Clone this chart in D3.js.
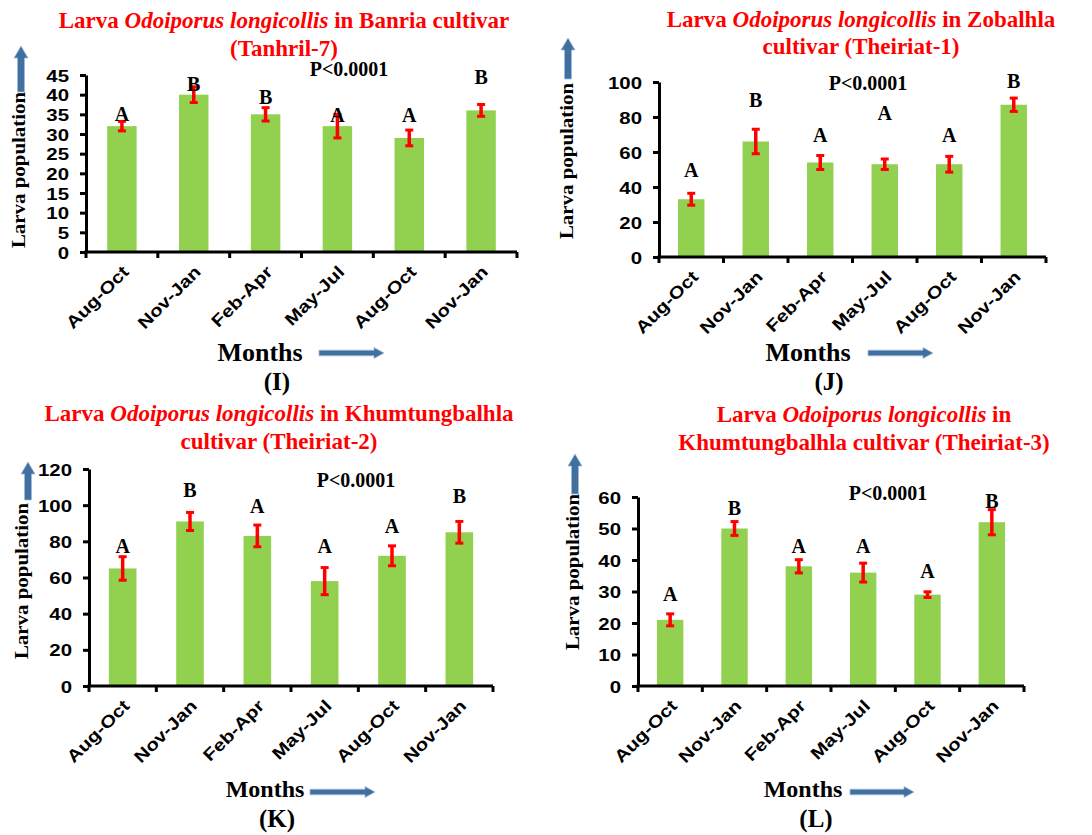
<!DOCTYPE html>
<html>
<head>
<meta charset="utf-8">
<script src="https://cdnjs.cloudflare.com/ajax/libs/d3/7.8.5/d3.min.js"></script>
<style>
    body { margin: 0; background: #fff; }
    svg { display: block; }
    .serif { font-family: "Liberation Serif", "Times New Roman", serif; font-weight: bold; }
    .sans { font-family: "Liberation Sans", Arial, sans-serif; font-weight: bold; }
</style>
</head>
<body>
<div id="chart"></div>
<script>
// Category labels shared by all four panels
var months = ["Aug-Oct", "Nov-Jan", "Feb-Apr", "May-Jul", "Aug-Oct", "Nov-Jan"];

// (I) Banria cultivar (Tanhril-7)
var banriaMean = [32, 40, 35, 32, 29, 36];
var banriaErr = [1.2, 2, 1.7, 3, 2, 1.5];
var banriaLetters = ["A", "B", "B", "A", "A", "B"];
var banriaLetterAt = [33.3, 41, 37.6, 33, 33, 42.7];

// (J) Zobalhla cultivar (Theiriat-1)
var zobalhlaMean = [33, 66, 54, 53, 53, 87];
var zobalhlaErr = [3.4, 7, 4, 3, 4.5, 3.8];
var zobalhlaLetters = ["A", "B", "A", "A", "A", "B"];
var zobalhlaLetterAt = [45.7, 85.7, 65.7, 78.3, 65.7, 96.6];

// (K) Khumtungbalhla cultivar (Theiriat-2)
var theiriat2Mean = [65, 91, 83, 58, 72, 85];
var theiriat2Err = [6.5, 5, 6, 7.5, 5.5, 6];
var theiriat2Letters = ["A", "B", "A", "A", "A", "B"];
var theiriat2LetterAt = [73.6, 104.5, 95.7, 73.6, 84.6, 101.2];

// (L) Khumtungbalhla cultivar (Theiriat-3)
var theiriat3Mean = [21, 50, 38, 36, 29, 52];
var theiriat3Err = [1.9, 2.2, 2.1, 3, 0.9, 4];
var theiriat3Letters = ["A", "B", "A", "A", "A", "B"];
var theiriat3LetterAt = [27, 54.3, 42.2, 42.2, 34.3, 56.5];

var pText = "P<0.0001";

var svg = d3.select("#chart")
    .append("svg")
    .attr("width", 1092)
    .attr("height", 835);

svg.append("rect").attr("width", 1092).attr("height", 835).attr("fill", "#fff");

var arrowFill = "#41709e";

// Layout of each panel
var panels = [
    {
        tag: "(I)", mean: banriaMean, err: banriaErr, letters: banriaLetters, letterAt: banriaLetterAt,
        yMax: 45, yStep: 5, left: 86, right: 517, top: 75, bottom: 252,
        title: [
            [["Larva ", false], ["Odoiporus longicollis", true], [" in Banria cultivar", false]],
            [["(Tanhril-7)", false]]
        ],
        titleX: 284, titleY: [28, 56],
        pX: 349, pY: 76,
        ylabX: 25, ylabY: 170, upX: 21, upTop: 46, upBottom: 92,
        monthsX: 260, monthsY: 361, monthsSize: 26, rArrow: [319, 384, 353],
        tagX: 277, tagY: 390
    },
    {
        tag: "(J)", mean: zobalhlaMean, err: zobalhlaErr, letters: zobalhlaLetters, letterAt: zobalhlaLetterAt,
        yMax: 100, yStep: 20, left: 659, right: 1046, top: 82, bottom: 257,
        title: [
            [["Larva ", false], ["Odoiporus longicollis", true], [" in Zobalhla", false]],
            [["cultivar (Theiriat-1)", false]]
        ],
        titleX: 861, titleY: [27, 54],
        pX: 868, pY: 90,
        ylabX: 573, ylabY: 161, upX: 568, upTop: 38, upBottom: 79,
        monthsX: 808, monthsY: 361, monthsSize: 26, rArrow: [868, 933, 353],
        tagX: 829, tagY: 390
    },
    {
        tag: "(K)", mean: theiriat2Mean, err: theiriat2Err, letters: theiriat2Letters, letterAt: theiriat2LetterAt,
        yMax: 120, yStep: 20, left: 89, right: 493, top: 469, bottom: 686,
        title: [
            [["Larva ", false], ["Odoiporus longicollis", true], [" in Khumtungbalhla", false]],
            [["cultivar (Theiriat-2)", false]]
        ],
        titleX: 279, titleY: [421, 449],
        pX: 356, pY: 487,
        ylabX: 28, ylabY: 581, upX: 28, upTop: 462, upBottom: 500,
        monthsX: 265, monthsY: 797, monthsSize: 24, rArrow: [310, 375, 792],
        tagX: 277, tagY: 827
    },
    {
        tag: "(L)", mean: theiriat3Mean, err: theiriat3Err, letters: theiriat3Letters, letterAt: theiriat3LetterAt,
        yMax: 60, yStep: 10, left: 638, right: 1024, top: 497, bottom: 686,
        title: [
            [["Larva ", false], ["Odoiporus longicollis", true], [" in", false]],
            [["Khumtungbalhla cultivar (Theiriat-3)", false]]
        ],
        titleX: 864, titleY: [422, 450],
        pX: 888, pY: 500,
        ylabX: 579, ylabY: 572, upX: 575, upTop: 454, upBottom: 494,
        monthsX: 803, monthsY: 797, monthsSize: 24, rArrow: [850, 914, 792],
        tagX: 816, tagY: 827
    }
];

panels.forEach(drawPanel);

function drawPanel(p) {
    var g = svg.append("g");

    var x = d3.scaleBand()
        .domain(d3.range(months.length))
        .range([p.left, p.right])
        .paddingInner(0.59)
        .paddingOuter(0.295);

    var y = d3.scaleLinear()
        .domain([0, p.yMax])
        .range([p.bottom, p.top]);

    var cx = function(i) { return x(i) + x.bandwidth() / 2; };

    // Bars
    g.selectAll(".bar")
        .data(p.mean)
        .enter()
        .append("rect")
        .attr("class", "bar")
        .attr("x", function(d, i) { return x(i); })
        .attr("y", function(d) { return y(d); })
        .attr("width", x.bandwidth())
        .attr("height", function(d) { return y(0) - y(d); })
        .attr("fill", "#92d050");

    // Error bars
    var eb = g.selectAll(".err")
        .data(p.mean)
        .enter()
        .append("g")
        .attr("class", "err")
        .attr("stroke", "#ff0000");

    eb.append("line")
        .attr("x1", function(d, i) { return cx(i); })
        .attr("x2", function(d, i) { return cx(i); })
        .attr("y1", function(d, i) { return y(d - p.err[i]); })
        .attr("y2", function(d, i) { return y(d + p.err[i]); })
        .attr("stroke-width", 3.5);

    [-1, 1].forEach(function(s) {
        eb.append("line")
            .attr("x1", function(d, i) { return cx(i) - 4; })
            .attr("x2", function(d, i) { return cx(i) + 4; })
            .attr("y1", function(d, i) { return y(d + s * p.err[i]); })
            .attr("y2", function(d, i) { return y(d + s * p.err[i]); })
            .attr("stroke-width", 3);
    });

    // Significance letters
    g.selectAll(".letter")
        .data(p.letters)
        .enter()
        .append("text")
        .attr("class", "serif")
        .attr("x", function(d, i) { return cx(i); })
        .attr("y", function(d, i) { return y(p.letterAt[i]); })
        .attr("text-anchor", "middle")
        .attr("font-size", 20)
        .text(function(d) { return d; });

    // Y axis
    var yAxis = d3.axisLeft(y)
        .tickValues(d3.range(0, p.yMax + 0.001, p.yStep))
        .tickSize(6)
        .tickSizeOuter(0);

    var ya = g.append("g")
        .attr("transform", "translate(" + p.left + ",0)")
        .call(yAxis)
        .attr("font-family", null)
        .attr("font-size", null);
    ya.select(".domain").attr("stroke", "#000").attr("stroke-width", 3);
    ya.selectAll(".tick line").attr("stroke", "#000").attr("stroke-width", 3);
    ya.selectAll(".tick text")
        .attr("class", "sans")
        .attr("font-size", 17)
        .attr("fill", "#000")
        .attr("x", null)
        .attr("dy", "0.36em")
        .attr("transform", "translate(-17,0) scale(1.2,1)");

    // X axis: line with boundary ticks between categories
    var boundaries = d3.range(months.length + 1).map(function(k) { return p.left + k * x.step(); });
    g.append("line")
        .attr("x1", p.left - 1.5)
        .attr("x2", p.right)
        .attr("y1", y(0))
        .attr("y2", y(0))
        .attr("stroke", "#000")
        .attr("stroke-width", 3);
    g.selectAll(".xtick")
        .data(boundaries)
        .enter()
        .append("line")
        .attr("x1", function(d) { return d; })
        .attr("x2", function(d) { return d; })
        .attr("y1", y(0))
        .attr("y2", y(0) + 6)
        .attr("stroke", "#000")
        .attr("stroke-width", 3);

    g.selectAll(".xlab")
        .data(months)
        .enter()
        .append("text")
        .attr("class", "sans")
        .attr("font-size", 17)
        .attr("text-anchor", "end")
        .attr("transform", function(d, i) {
            return "translate(" + (cx(i) + 8) + "," + (y(0) + 21) + ") rotate(-45) scale(1.2,1)";
        })
        .text(function(d) { return d; });

    // Title (two lines, species name in italic)
    p.title.forEach(function(line, li) {
        var t = g.append("text")
            .attr("class", "serif")
            .attr("x", p.titleX)
            .attr("y", p.titleY[li])
            .attr("text-anchor", "middle")
            .attr("font-size", 23)
            .attr("fill", "#ff0000");
        line.forEach(function(seg) {
            t.append("tspan")
                .attr("font-style", seg[1] ? "italic" : "normal")
                .text(seg[0]);
        });
    });

    // P value
    g.append("text")
        .attr("class", "serif")
        .attr("x", p.pX)
        .attr("y", p.pY)
        .attr("text-anchor", "middle")
        .attr("font-size", 20)
        .text(pText);

    // Y label and arrow
    g.append("text")
        .attr("class", "serif")
        .attr("font-size", 19)
        .attr("text-anchor", "middle")
        .attr("transform", "translate(" + p.ylabX + "," + p.ylabY + ") rotate(-90) scale(1.1,1)")
        .text("Larva population");

    g.append("path")
        .attr("d", upArrow(p.upX, p.upTop, p.upBottom))
        .attr("fill", arrowFill)
        .attr("stroke", "#9dbbe0")
        .attr("stroke-width", 0.8);

    // X label and arrow
    g.append("text")
        .attr("class", "serif")
        .attr("x", p.monthsX)
        .attr("y", p.monthsY)
        .attr("text-anchor", "middle")
        .attr("font-size", p.monthsSize)
        .text("Months");

    g.append("path")
        .attr("d", rightArrow(p.rArrow[0], p.rArrow[1], p.rArrow[2]))
        .attr("fill", arrowFill)
        .attr("stroke", "#9dbbe0")
        .attr("stroke-width", 0.8);

    // Panel tag
    g.append("text")
        .attr("class", "serif")
        .attr("x", p.tagX)
        .attr("y", p.tagY)
        .attr("text-anchor", "middle")
        .attr("font-size", 25)
        .text(p.tag);
}

function upArrow(cx, top, bottom) {
    var path = d3.path();
    path.moveTo(cx, top);
    path.lineTo(cx + 7, top + 12);
    path.lineTo(cx + 3.5, top + 12);
    path.lineTo(cx + 3.5, bottom);
    path.lineTo(cx - 3.5, bottom);
    path.lineTo(cx - 3.5, top + 12);
    path.lineTo(cx - 7, top + 12);
    path.closePath();
    return path.toString();
}

function rightArrow(x1, x2, cy) {
    var path = d3.path();
    path.moveTo(x2, cy);
    path.lineTo(x2 - 10, cy - 5.5);
    path.lineTo(x2 - 10, cy - 2.8);
    path.lineTo(x1, cy - 2.8);
    path.lineTo(x1, cy + 2.8);
    path.lineTo(x2 - 10, cy + 2.8);
    path.lineTo(x2 - 10, cy + 5.5);
    path.closePath();
    return path.toString();
}
</script>
</body>
</html>
